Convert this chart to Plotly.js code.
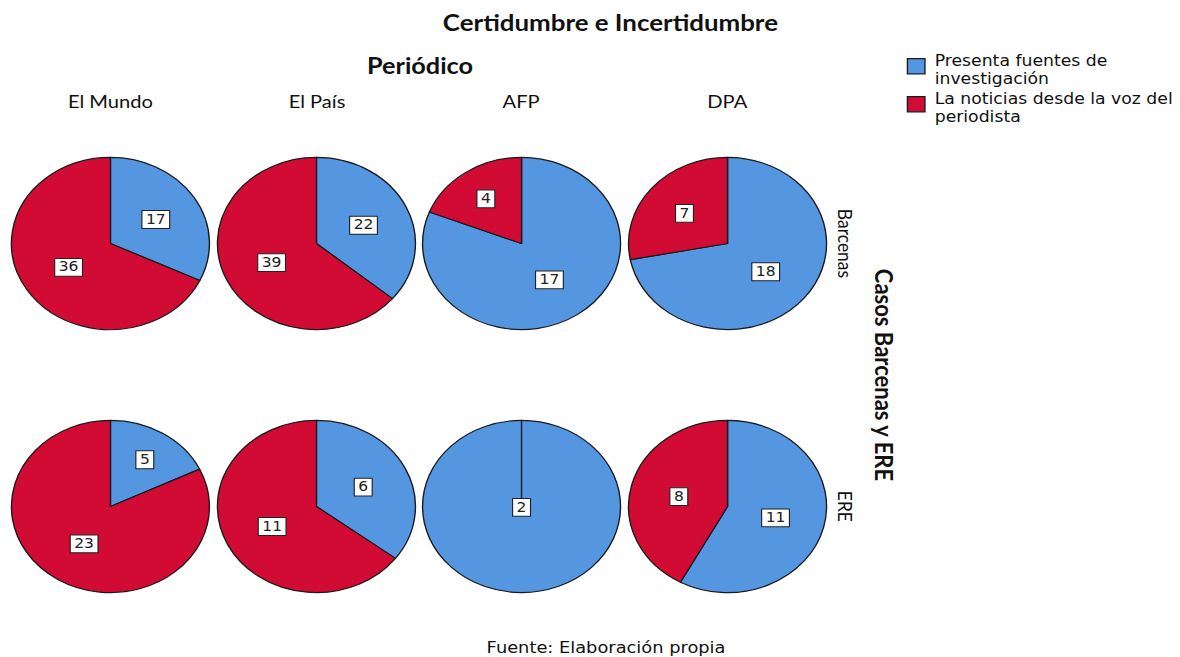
<!DOCTYPE html>
<html><head><meta charset="utf-8">
<script src="https://cdn.plot.ly/plotly-3.0.1.min.js"></script>
<style>
html,body{margin:0;padding:0;background:#fff;overflow:hidden}
#chart{width:1026px;height:657px;transform:scaleX(1.150097);transform-origin:0 0}
</style>
</head><body><div id="chart"></div>
<script>
const periodicos = ['El Mundo', 'El País', 'AFP', 'DPA'];
const casos = ['Barcenas', 'ERE'];
const categorias = ['Presenta fuentes de<br>investigación', 'La noticias desde la voz del<br>periodista'];
const presentaBarcenas = [17, 22, 17, 18];
const vozBarcenas = [36, 39, 4, 7];
const presentaERE = [5, 6, 2, 11];
const vozERE = [23, 11, 0, 8];
const colores = ['#5496e0', '#d20b34'];

// drawing space (the whole figure is shown 1.15x wider, as in the reference)
const W = 1026, H = 657;
const colCx = [96.5, 276.5, 455.7, 635.7];
const rowCy = [243.5, 506.5];
const R = 86.5;

const serie = [[presentaBarcenas, vozBarcenas], [presentaERE, vozERE]];
const data = [];
casos.forEach((caso, r) => {
  periodicos.forEach((p, c) => {
    const cx = colCx[c], cy = rowCy[r];
    data.push({
      type: 'pie',
      labels: categorias,
      values: [serie[r][0][c], serie[r][1][c]],
      sort: false,
      direction: 'clockwise',
      rotation: 0,
      textinfo: 'value',
      textposition: 'inside',
      insidetextorientation: 'horizontal',
      textfont: {family: 'DejaVu Sans', size: 13.5, color: '#222'},
      marker: {colors: colores, line: {color: '#1a1a1a', width: 1.2}},
      domain: {x: [(cx - R) / W, (cx + R) / W], y: [1 - (cy + R) / H, 1 - (cy - R) / H]},
      name: caso + ' ' + p,
      hoverinfo: 'none'
    });
  });
});

function ann(text, px, py, size, bold, family, angle) {
  return {text: bold ? '<b>' + text + '</b>' : text, xref: 'paper', yref: 'paper',
    x: px / W, y: 1 - py / H, xanchor: 'center', yanchor: 'middle', showarrow: false,
    textangle: angle || 0, font: {family: family, size: size, color: '#111'}};
}
const headFont = 'Lato';
const annotations = [
  ann('Certidumbre e Incertidumbre', 533.5, 22, 22.5, true, headFont),
  ann('Periódico', 367, 65, 22, true, headFont),
  ann('Casos Barcenas y ERE', 774, 375, 22, true, headFont, 90),
  ann('Fuente: Elaboración propia', 529.6, 648, 15.5, false, 'DejaVu Sans')
];
periodicos.forEach((p, c) => annotations.push(ann(p, colCx[c], 101, 17.5, false, headFont)));
casos.forEach((k, r) => annotations.push(ann(k, 738.3, rowCy[r], 17.5, false, headFont, 90)));

const layout = {
  width: W, height: H,
  margin: {l: 0, r: 0, t: 0, b: 0},
  paper_bgcolor: '#fff',
  showlegend: true,
  legend: {x: 776.5 / W, y: 1 - 50 / H, xanchor: 'left', yanchor: 'top', valign: 'top',
    font: {family: 'DejaVu Sans', size: 15, color: '#111'}, bgcolor: 'rgba(0,0,0,0)'},
  annotations: annotations
};

const gd = document.getElementById('chart');
Plotly.newPlot(gd, data, layout, {staticPlot: true, displayModeBar: false}).then(() => {
  const NS = 'http://www.w3.org/2000/svg';
  // boxed value labels, drawn above every slice outline
  gd.querySelectorAll('.pielayer g.trace').forEach(tr => {
    tr.querySelectorAll('g.slicetext').forEach(g => {
      const txt = g.querySelector('text');
      if (!txt) return;
      const b = txt.getBBox();
      const rect = document.createElementNS(NS, 'rect');
      rect.setAttribute('x', b.x - 3.5);
      rect.setAttribute('y', b.y - 1);
      rect.setAttribute('width', b.width + 7);
      rect.setAttribute('height', b.height + 3);
      rect.setAttribute('fill', '#fff');
      rect.setAttribute('stroke', '#222');
      rect.setAttribute('stroke-width', '1');
      const tt = txt.getAttribute('transform');
      if (tt) rect.setAttribute('transform', tt);
      g.insertBefore(rect, txt);
      tr.appendChild(g);
    });
  });
  // legend: bigger swatches, text a little higher
  const items = gd.querySelectorAll('.legend g.traces');
  items.forEach((it, i) => {
    it.querySelectorAll('tspan.line').forEach((ts, j) => ts.setAttribute('dy', (j * 1.17) + 'em'));
    const t = it.querySelector('text.legendtext');
    if (t) { t.setAttribute('x', 27.7); t.setAttribute('transform', 'translate(0,-6)'); }
    it.querySelectorAll('.legendpoints path').forEach(p => {
      const tr = p.getAttribute('transform') || '';
      p.setAttribute('transform', 'translate(3.9,0) ' + tr + ' scale(1.27)');
      p.style.vectorEffect = 'non-scaling-stroke';
    });
    if (i > 0) {
      const m = (it.getAttribute('transform') || '').match(/translate\(\s*([-\d.e]+)[ ,]+([-\d.e]+)\s*\)/);
      if (m) it.setAttribute('transform', 'translate(' + m[1] + ',' + (parseFloat(m[2]) - 4 * i) + ')');
    }
  });
});
</script>
</body></html>
